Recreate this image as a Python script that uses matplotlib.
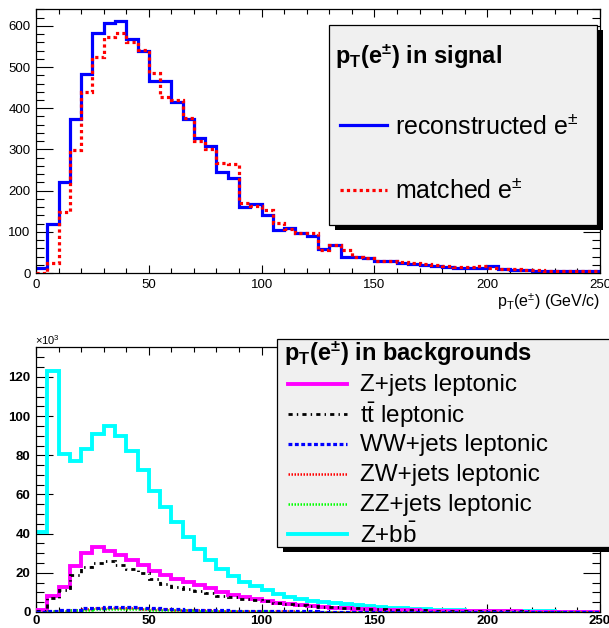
import numpy as np
import matplotlib
matplotlib.use('Agg')
from matplotlib import pyplot as plt
from matplotlib.patches import Rectangle
from matplotlib.lines import Line2D

plt.rcParams['font.family'] = ['Liberation Sans', 'DejaVu Sans']
plt.rcParams['mathtext.default'] = 'regular'

edges = np.arange(0, 255, 5)

# signal, entries per 5 GeV bin
reco = [12, 120, 220, 373, 484, 582, 607, 612, 568, 540,
        466, 466, 415, 375, 327, 308, 245, 230, 160, 168,
        140, 105, 110, 98, 90, 58, 69, 38, 40, 36,
        29, 28, 24, 23, 20, 18, 15, 13, 12, 11,
        16, 9, 8, 7, 6, 5, 5, 4, 5, 4]
matched = [0, 25, 148, 299, 440, 525, 572, 582, 562, 542,
           485, 428, 420, 376, 320, 300, 268, 265, 170, 162,
           154, 121, 107, 97, 97, 57, 69, 57, 40, 36,
           30, 30, 26, 24, 22, 20, 17, 15, 14, 18,
           12, 10, 9, 8, 7, 6, 6, 5, 5, 6]

# backgrounds, x10^3 entries per bin
zbb = [41, 123, 80.5, 77, 83.4, 91, 95, 90, 82, 72.7,
       62, 53.6, 46, 38.3, 32.2, 26.4, 22, 18.2, 15.3, 13.1,
       11, 9.4, 7.7, 6.6, 5.8, 5.0, 4.4, 3.9, 3.4, 3.0,
       2.6, 2.2, 1.9, 1.6, 1.3, 1.1, 0.9, 0.8, 0.7, 0.6,
       0.5, 0.45, 0.4, 0.35, 0.3, 0.3, 0.25, 0.2, 0.2, 0.15]
zjets = [1, 8, 13, 23.5, 30, 33, 31, 29, 26.4, 24,
         21, 18.7, 17, 15.3, 13.6, 12, 10.2, 8.7, 7.5, 6.5,
         5.5, 4.7, 4.0, 3.4, 2.9, 2.5, 2.1, 1.8, 1.5, 1.3,
         1.1, 1.0, 0.9, 0.8, 0.7, 0.6, 0.5, 0.5, 0.4, 0.4,
         0.35, 0.3, 0.3, 0.25, 0.25, 0.2, 0.2, 0.2, 0.15, 0.15]
ttbar = [0.5, 7, 11, 19, 23, 25, 26, 24, 22, 20,
         17, 14.5, 13, 11.5, 10.5, 9.5, 8.3, 7.5, 6.8, 6.2,
         5.5, 4.8, 4.2, 3.7, 3.2, 2.8, 2.4, 2.1, 1.8, 1.6,
         1.4, 1.2, 1.0, 0.9, 0.8, 0.7, 0.6, 0.5, 0.5, 0.4,
         0.4, 0.3, 0.3, 0.3, 0.25, 0.2, 0.2, 0.2, 0.15, 0.15]
wwjets = [0.2, 0.5, 0.8, 1.2, 1.8, 2.2, 2.5, 2.5, 2.3, 2.0,
          1.8, 1.6, 1.4, 1.2, 1.0, 0.9, 0.8, 0.7, 0.6, 0.5,
          0.45, 0.4, 0.35, 0.3, 0.3, 0.25, 0.2, 0.2, 0.2, 0.15,
          0.15, 0.12, 0.12, 0.1, 0.1, 0.1, 0.08, 0.08, 0.08, 0.06,
          0.06, 0.06, 0.05, 0.05, 0.05, 0.04, 0.04, 0.04, 0.03, 0.03]
zwjets = [0.1, 0.4, 0.7, 1.0, 1.5, 1.9, 2.1, 2.1, 1.9, 1.7,
          1.5, 1.3, 1.1, 1.0, 0.9, 0.8, 0.7, 0.6, 0.5, 0.45,
          0.4, 0.35, 0.3, 0.25, 0.25, 0.2, 0.2, 0.15, 0.15, 0.12,
          0.12, 0.1, 0.1, 0.08, 0.08, 0.08, 0.06, 0.06, 0.06, 0.05,
          0.05, 0.05, 0.04, 0.04, 0.04, 0.03, 0.03, 0.03, 0.03, 0.02]
zzjets = [0.1, 0.3, 0.5, 0.8, 1.1, 1.4, 1.5, 1.5, 1.4, 1.3,
          1.1, 1.0, 0.9, 0.8, 0.7, 0.6, 0.5, 0.45, 0.4, 0.35,
          0.3, 0.25, 0.25, 0.2, 0.2, 0.15, 0.15, 0.12, 0.12, 0.1,
          0.1, 0.08, 0.08, 0.06, 0.06, 0.06, 0.05, 0.05, 0.05, 0.04,
          0.04, 0.04, 0.03, 0.03, 0.03, 0.03, 0.02, 0.02, 0.02, 0.02]

W, H = 609, 628
fig = plt.figure(figsize=(W / 100, H / 100), dpi=100)

TT_STYLE = (0, (1.5, 1.5, 0.5, 1.5))


def fx(px):
    return px / W


def fy(py):
    return 1 - py / H


def style_axes(ax, bold=False, pad=4):
    ax.tick_params(which='both', direction='in', top=True, right=True, width=0.8)
    ax.tick_params(axis='y', which='major', length=12, pad=4)
    ax.tick_params(axis='y', which='minor', length=6)
    ax.tick_params(axis='x', which='major', length=6, pad=pad)
    ax.tick_params(axis='x', which='minor', length=3.5)
    for sp in ax.spines.values():
        sp.set_linewidth(0.9)
    for lab in ax.get_xticklabels() + ax.get_yticklabels():
        lab.set_fontsize(9.5)
        if bold:
            lab.set_fontweight('bold')


# ---- top: signal
ax1 = fig.add_axes([fx(36), fy(273), fx(564), 264 / H])
ax1.stairs(reco, edges, baseline=None, color='#0000ff', lw=2.3, zorder=2)
ax1.stairs(matched, edges, baseline=None, color='#ff0000', lw=2.3,
           linestyle=(0, (1, 1)), zorder=3)
ax1.set_xlim(0, 250)
ax1.set_ylim(0, 641)
ax1.set_xticks(np.arange(0, 251, 50))
ax1.set_xticks(np.arange(0, 251, 10), minor=True)
ax1.set_yticks(np.arange(0, 601, 100))
ax1.set_yticks(np.arange(0, 641, 20), minor=True)
style_axes(ax1)
fig.text(fx(600), fy(302), 'p$_{T}$(e$^{\\pm}$) (GeV/c)', ha='right', va='center', fontsize=11.5)

# ---- bottom: backgrounds
ax2 = fig.add_axes([fx(36), fy(612), fx(564), 265 / H])
ax2.stairs(zbb, edges, baseline=None, color='#00ffff', lw=2.8, zorder=2)
ax2.stairs(zjets, edges, baseline=None, color='#ff00ff', lw=2.8, zorder=3)
ax2.stairs(ttbar, edges, baseline=None, color='black', lw=2.0,
           linestyle=TT_STYLE, zorder=4)
ax2.stairs(wwjets, edges, baseline=None, color='#0000ff', lw=2.3,
           linestyle=(0, (1.2, 0.8)), zorder=5)
ax2.stairs(zwjets, edges, baseline=None, color='#ff0000', lw=1.8,
           linestyle=(0, (0.6, 0.6)), zorder=4)
ax2.stairs(zzjets, edges, baseline=None, color='#00ff00', lw=1.8,
           linestyle=(0, (0.6, 0.6)), zorder=4)
ax2.set_xlim(0, 250)
ax2.set_ylim(0, 135.3)
ax2.set_xticks(np.arange(0, 251, 50))
ax2.set_xticks(np.arange(0, 251, 10), minor=True)
ax2.set_yticks(np.arange(0, 121, 20))
ax2.set_yticks(np.arange(0, 135, 5), minor=True)
style_axes(ax2, bold=True, pad=2.5)
fig.text(fx(35), fy(340), '$\\times 10^{3}$', ha='left', va='center', fontsize=8)


def legend_box(x0, y0, x1, y1):
    fig.patches.append(Rectangle((fx(x0 + 6), fy(y1 + 5)), fx(x1 - x0), (y1 - y0) / H,
                                 transform=fig.transFigure, facecolor='black',
                                 edgecolor='none', zorder=10))
    fig.patches.append(Rectangle((fx(x0), fy(y1)), fx(x1 - x0), (y1 - y0) / H,
                                 transform=fig.transFigure, facecolor='#f0f0f0',
                                 edgecolor='black', lw=0.9, zorder=11))


def legend_line(x0, x1, y, **kw):
    fig.lines.append(Line2D([fx(x0), fx(x1)], [fy(y), fy(y)], transform=fig.transFigure,
                            zorder=12, **kw))


legend_box(329, 25, 597, 225)
fig.text(fx(335), fy(57), 'p$_{T}$(e$^{\\pm}$) in signal', fontsize=17, fontweight='bold',
         va='center', ha='left', zorder=13)
legend_line(340, 387, 125, color='#0000ff', lw=2.3)
fig.text(fx(395), fy(126), 'reconstructed e$^{\\pm}$', fontsize=18, va='center', zorder=13)
legend_line(340, 387, 190, color='#ff0000', lw=2.3, linestyle=(0, (1, 1)))
fig.text(fx(395), fy(191), 'matched e$^{\\pm}$', fontsize=18, va='center', zorder=13)

legend_box(277, 339, 620, 547)
fig.text(fx(284), fy(354), 'p$_{T}$(e$^{\\pm}$) in backgrounds', fontsize=17, fontweight='bold',
         va='center', ha='left', zorder=13)
bkg_entries = [
    ('Z+jets leptonic', dict(color='#ff00ff', lw=2.8)),
    ('t$\\bar{t}$ leptonic', dict(color='black', lw=2.0, linestyle=TT_STYLE)),
    ('WW+jets leptonic', dict(color='#0000ff', lw=2.3, linestyle=(0, (1.2, 0.8)))),
    ('ZW+jets leptonic', dict(color='#ff0000', lw=1.8, linestyle=(0, (0.6, 0.6)))),
    ('ZZ+jets leptonic', dict(color='#00ff00', lw=1.8, linestyle=(0, (0.6, 0.6)))),
    ('Z+b$\\bar{b}$', dict(color='#00ffff', lw=2.8)),
]
for i, (lab, kw) in enumerate(bkg_entries):
    y = 384 + 30 * i
    legend_line(288, 347, y, **kw)
    fig.text(fx(360), fy(y + 1), lab, fontsize=17.5, va='center', zorder=13)

plt.savefig('out.png', dpi=100)
